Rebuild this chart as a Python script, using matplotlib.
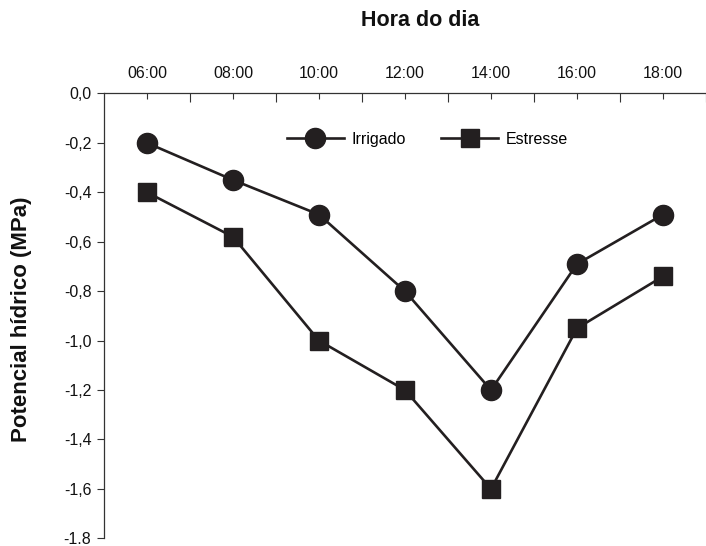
import numpy as np
import matplotlib
matplotlib.use("Agg")
import matplotlib.pyplot as plt
from matplotlib.ticker import FixedLocator

plt.rcParams['font.family'] = ['Liberation Sans', 'DejaVu Sans']

# Dados
horas = [6, 8, 10, 12, 14, 16, 18]
rotulos_horas = ['06:00', '08:00', '10:00', '12:00', '14:00', '16:00', '18:00']
irrigado = [-0.20, -0.35, -0.49, -0.80, -1.20, -0.69, -0.49]
estresse = [-0.40, -0.58, -1.00, -1.20, -1.60, -0.95, -0.74]
y_ticks = [0.0, -0.2, -0.4, -0.6, -0.8, -1.0, -1.2, -1.4, -1.6, -1.8]
y_rotulos = ['0,0', '-0,2', '-0,4', '-0,6', '-0,8', '-1,0', '-1,2', '-1,4', '-1,6', '-1.8']

cor = '#231f20'

fig = plt.figure(figsize=(7.06, 5.46), dpi=100)
ax = fig.add_axes([0.1473, 0.014, 0.8527, 0.8148])

ax.plot(horas, irrigado, '-', color=cor, lw=1.9, marker='o', ms=14.5,
        mec=cor, mfc=cor, label='Irrigado')
ax.plot(horas, estresse, '-', color=cor, lw=1.9, marker='s', ms=13.5,
        mec=cor, mfc=cor, label='Estresse')

ax.set_xlim(5, 19)
ax.set_ylim(-1.8, 0)

ax.spines['right'].set_visible(False)
ax.spines['bottom'].set_visible(False)
for s in ('top', 'left'):
    ax.spines[s].set_color('#333333')
    ax.spines[s].set_linewidth(0.9)

ax.xaxis.tick_top()
ax.set_xticks(horas)
ax.set_xticklabels(rotulos_horas, fontsize=11.5)
ax.xaxis.set_minor_locator(FixedLocator([7, 9, 11, 13, 15, 17, 19]))
ax.tick_params(axis='x', which='major', direction='in', length=4.5, width=0.8,
               pad=9, colors='#333333', labelcolor='#111111')
ax.tick_params(axis='x', which='minor', direction='in', length=6.5, width=0.8,
               colors='#333333', top=True, bottom=False)

ax.set_yticks(y_ticks)
ax.set_yticklabels(y_rotulos, fontsize=11.5)
ax.tick_params(axis='y', direction='out', length=5, width=0.8, pad=4,
               colors='#333333', labelcolor='#111111')

fig.text(0.595, 0.962, 'Hora do dia', ha='center', va='center',
         fontsize=15.5, fontweight='bold', color='#111111')
fig.text(0.031, 0.415, 'Potencial hídrico (MPa)', ha='center', va='center',
         rotation=90, fontsize=16, fontweight='bold', color='#111111')

ax.legend(loc='center', bbox_to_anchor=(0.605, 0.745), bbox_transform=fig.transFigure,
          ncol=2, frameon=False, fontsize=11.5, handlelength=3.6,
          handletextpad=0.45, columnspacing=2.2, markerscale=1.0)

fig.savefig('out.png', dpi=100)
